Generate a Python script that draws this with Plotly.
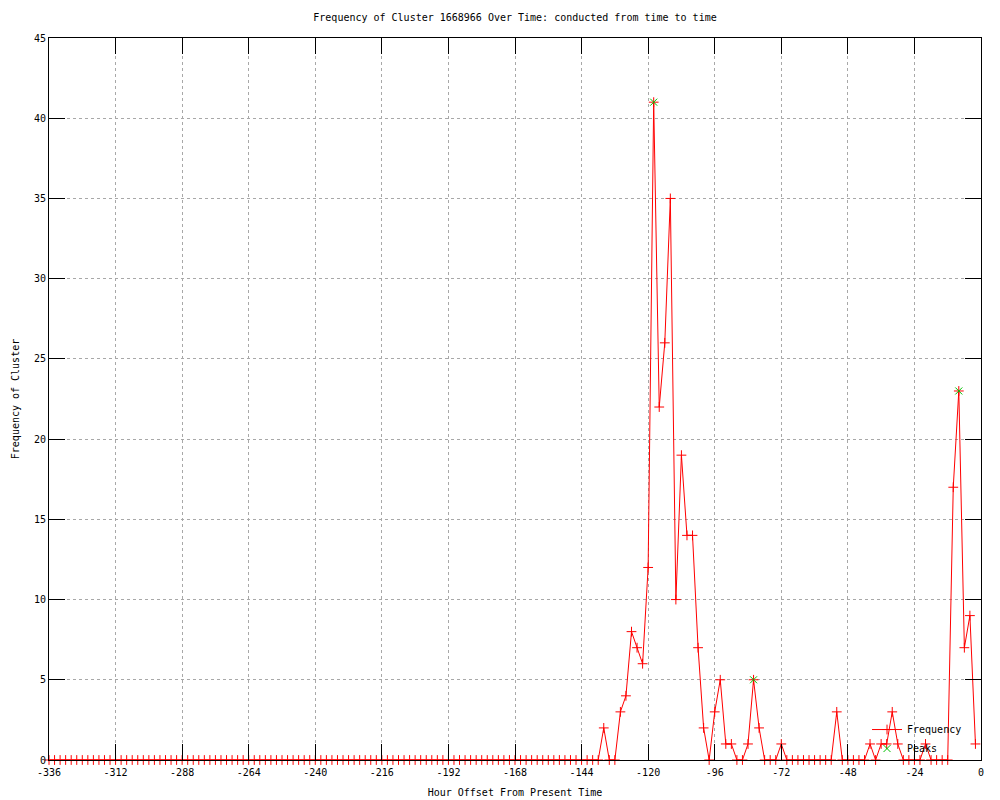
import plotly.graph_objects as go

# ---- data ----
hours = list(range(-336, 0, 2))  # sample every 2 hours, -336 .. -2
frequency = [
    0, 0, 0, 0, 0, 0, 0, 0, 0, 0,   # -336 .. -318
    0, 0, 0, 0, 0, 0, 0, 0, 0, 0,   # -316 .. -298
    0, 0, 0, 0, 0, 0, 0, 0, 0, 0,   # -296 .. -278
    0, 0, 0, 0, 0, 0, 0, 0, 0, 0,   # -276 .. -258
    0, 0, 0, 0, 0, 0, 0, 0, 0, 0,   # -256 .. -238
    0, 0, 0, 0, 0, 0, 0, 0, 0, 0,   # -236 .. -218
    0, 0, 0, 0, 0, 0, 0, 0, 0, 0,   # -216 .. -198
    0, 0, 0, 0, 0, 0, 0, 0, 0, 0,   # -196 .. -178
    0, 0, 0, 0, 0, 0, 0, 0, 0, 0,   # -176 .. -158
    0, 0, 0, 0, 0, 0, 0, 0, 0, 0,   # -156 .. -138
    2, 0, 0, 3, 4, 8, 7, 6, 12, 41, # -136 .. -118
    22, 26, 35, 10, 19, 14, 14, 7, 2, 0,  # -116 .. -98
    3, 5, 1, 1, 0, 0, 1, 5, 2, 0,   # -96 .. -78
    0, 0, 1, 0, 0, 0, 0, 0, 0, 0,   # -76 .. -58
    0, 0, 3, 0, 0, 0, 0, 0, 1, 0,   # -56 .. -38
    1, 1, 3, 1, 0, 0, 0, 0, 1, 0,   # -36 .. -18
    0, 0, 0, 17, 23, 7, 9, 1,       # -16 .. -2
]
peak_hours = [-118, -82, -8]
peak_values = [41, 5, 23]

x_tick_vals = [-336, -312, -288, -264, -240, -216, -192, -168, -144,
               -120, -96, -72, -48, -24, 0]
x_tick_text = ["-336", "-312", "-288", "-264", "-240", "-216", "-192", "-168",
               "-144", "-120", "-96", "-72", "-48", "-24", "0"]
y_tick_vals = [0, 5, 10, 15, 20, 25, 30, 35, 40, 45]

title_text = "Frequency of Cluster 1668966 Over Time: conducted from time to time"
x_title = "Hour Offset From Present Time"
y_title = "Frequency of Cluster"

FONT = "DejaVu Sans Mono"

fig = go.Figure()
fig.add_trace(go.Scatter(
    x=hours, y=frequency, mode="lines+markers", name="Frequency",
    line=dict(color="#ff0000", width=1),
    marker=dict(symbol="cross-thin", size=7, color="#ff0000",
                line=dict(color="#ff0000", width=1)),
    cliponaxis=False,
))
fig.add_trace(go.Scatter(
    x=peak_hours, y=peak_values, mode="markers", name="Peaks",
    marker=dict(symbol="x-thin", size=7, color="#00c000",
                line=dict(color="#00c000", width=1)),
    cliponaxis=False,
))

axis_common = dict(
    showline=True, linecolor="black", linewidth=1, mirror="ticks",
    ticks="inside", ticklen=16, tickcolor="black", tickwidth=1,
    showgrid=True, gridcolor="#a8a8a8", griddash="dot", gridwidth=1,
    zeroline=False, automargin=False,
    tickfont=dict(family=FONT, size=10, color="black"),
)

fig.update_xaxes(
    range=[-336, 0], tickmode="array", tickvals=x_tick_vals, ticktext=x_tick_text,
    ticklabelstandoff=3,
    title=dict(text=x_title, font=dict(family=FONT, size=10, color="black"), standoff=11),
    **axis_common,
)
fig.update_yaxes(
    range=[0, 45], tickmode="array", tickvals=y_tick_vals,
    title=dict(text=y_title, font=dict(family=FONT, size=10, color="black"), standoff=12),
    **axis_common,
)

fig.update_layout(
    width=1000, height=800,
    margin=dict(l=49, r=19, t=38, b=40),
    paper_bgcolor="white", plot_bgcolor="white",
    title=dict(text=title_text, x=0.515, xanchor="center", y=0.978, yanchor="middle",
               font=dict(family=FONT, size=10, color="black")),
    font=dict(family=FONT, size=10, color="black"),
    legend=dict(x=0.985, xanchor="right", y=-0.0042, yanchor="bottom",
                bgcolor="rgba(0,0,0,0)", font=dict(family=FONT, size=10),
                tracegroupgap=0, itemwidth=30),
    showlegend=True,
)

fig.write_html("out.html", config={"displayModeBar": False},
               post_script="document.body.style.margin='0';")
